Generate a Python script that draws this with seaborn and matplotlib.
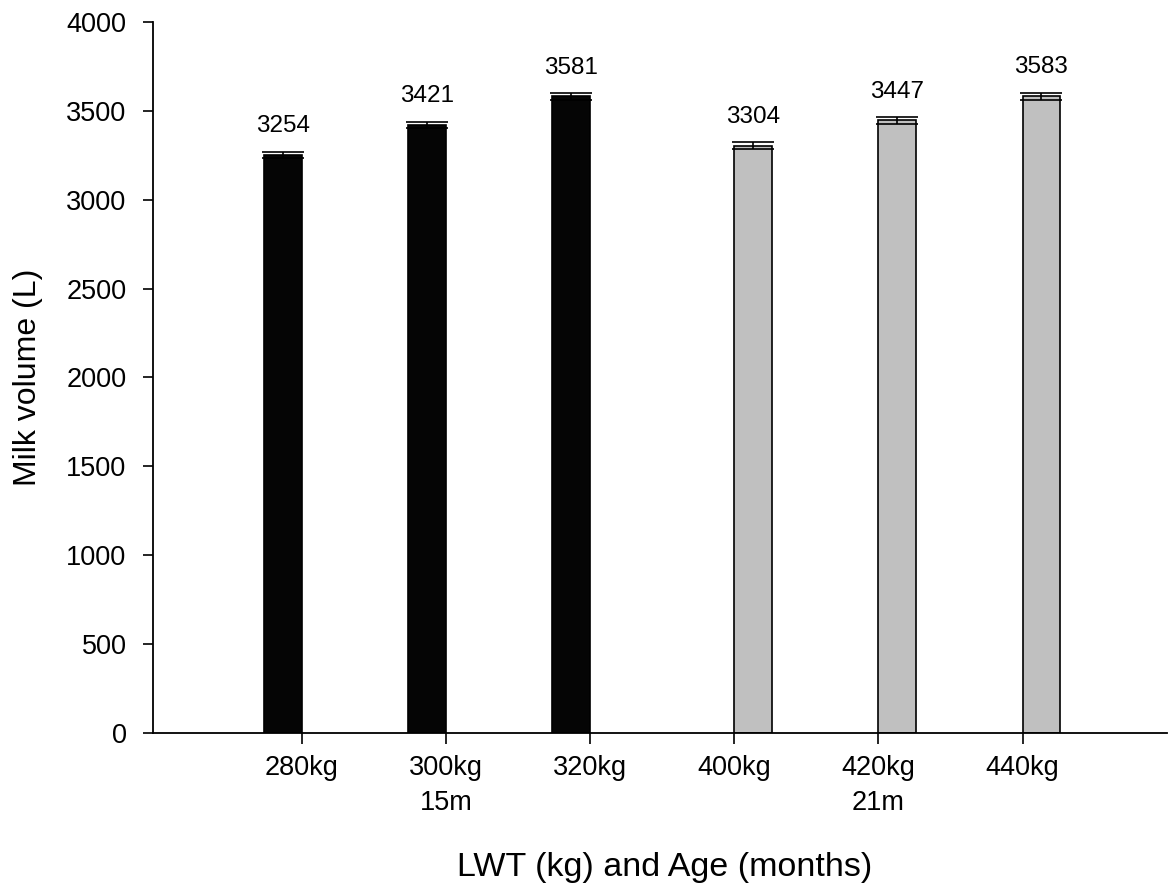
import pandas as pd
import seaborn as sns
import matplotlib.pyplot as plt

# Milk volume by live weight target, two age groups
weights = ['280kg', '300kg', '320kg', '400kg', '420kg', '440kg']
tick_labels = ['280kg', '300kg\n15m', '320kg', '400kg', '420kg\n21m', '440kg']
ages = ['15m', '15m', '15m', '21m', '21m', '21m']
milk_volume = [3254, 3421, 3581, 3304, 3447, 3583]
milk_se = [17, 18, 18, 19, 19, 20]

df = pd.DataFrame({'LWT': weights, 'Age': ages, 'Milk': milk_volume, 'SE': milk_se})

sns.set_style('ticks')
plt.rcParams['font.family'] = ['Liberation Sans', 'DejaVu Sans']
for key in ['text.color', 'axes.labelcolor', 'xtick.color', 'ytick.color', 'axes.edgecolor']:
    plt.rcParams[key] = 'black'

fig = plt.figure(figsize=(11.68, 8.86), dpi=100)
ax = fig.add_axes([0.131, 0.1727, 0.868, 0.8025])

sns.barplot(data=df, x='LWT', y='Milk', hue='Age', order=weights,
            palette={'15m': '#050505', '21m': '#c0c0c0'}, dodge=True,
            width=0.52, edgecolor='black', linewidth=1.2, errorbar=None,
            legend=False, ax=ax)

# error bars and value labels on top of each bar
bars = sorted([p for p in ax.patches if p.get_height() > 0], key=lambda p: p.get_x())
for p, val, se in zip(bars, milk_volume, milk_se):
    cx = p.get_x() + p.get_width() / 2
    ax.errorbar(cx, val, yerr=se, color='black', capsize=15, elinewidth=1.2,
                capthick=1.2, zorder=5)
    ax.text(cx, val + se + 80, str(val), ha='center', va='bottom', fontsize=17.5)

ax.set_xlim(-1.03, 6.0)
ax.set_ylim(0, 4000)
ax.set_yticks(range(0, 4001, 500))
ax.set_xticks(range(len(weights)))
ax.set_xticklabels(tick_labels, fontsize=19.5, linespacing=1.45)
ax.tick_params(axis='y', labelsize=19.5, length=7, width=1.2, direction='out', pad=12)
ax.tick_params(axis='x', length=8, width=1.2, direction='out', pad=8)
ax.set_xlabel('LWT (kg) and Age (months)', fontsize=24.5)
ax.set_ylabel('Milk volume (L)', fontsize=23)
ax.xaxis.set_label_coords(0.505, -0.168)
ax.yaxis.set_label_coords(-0.109, 0.5)

for side in ['top', 'right']:
    ax.spines[side].set_visible(False)
for side in ['left', 'bottom']:
    ax.spines[side].set_linewidth(1.3)

plt.savefig('out.png', dpi=100)
